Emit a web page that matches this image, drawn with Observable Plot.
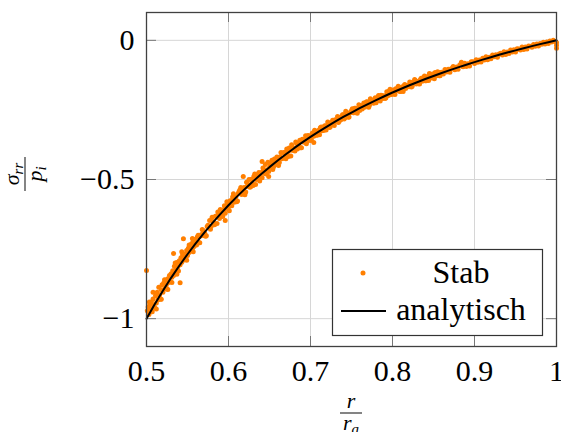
<!DOCTYPE html>
<html>
<head>
<meta charset="utf-8">
<script src="https://cdn.jsdelivr.net/npm/d3@7"></script>
<script src="https://cdn.jsdelivr.net/npm/@observablehq/plot@0.6"></script>
<style>
  body { margin: 0; background: white; }
  #chart { width: 561px; height: 432px; overflow: hidden; }
  #chart svg, #chart svg text { font-family: "Liberation Serif", "Times New Roman", Tinos, "DejaVu Serif", "Noto Serif", serif !important; }
</style>
</head>
<body>
<div id="chart"></div>
<script>
// ---- Data ----
const xTicks = [0.5, 0.6, 0.7, 0.8, 0.9, 1];
const yTicks = [-1, -0.5, 0];
const legendLabels = ["Stab", "analytisch"];

// analytical solution (black line)
const anaR = [0.50,0.51,0.52,0.53,0.54,0.55,0.56,0.57,0.58,0.59,0.60,0.61,0.62,0.63,0.64,0.65,0.66,0.67,0.68,0.69,0.70,0.71,0.72,0.73,0.74,0.75,0.76,0.77,0.78,0.79,0.80,0.81,0.82,0.83,0.84,0.85,0.86,0.87,0.88,0.89,0.90,0.91,0.92,0.93,0.94,0.95,0.96,0.97,0.98,0.99,1.00];
const anaS = [-1.0000,-0.9482,-0.8994,-0.8533,-0.8098,-0.7686,-0.7296,-0.6926,-0.6576,-0.6242,-0.5926,-0.5625,-0.5338,-0.5065,-0.4805,-0.4556,-0.4319,-0.4092,-0.3875,-0.3668,-0.3469,-0.3279,-0.3097,-0.2922,-0.2754,-0.2593,-0.2438,-0.2289,-0.2146,-0.2008,-0.1875,-0.1747,-0.1624,-0.1505,-0.1391,-0.1280,-0.1174,-0.1071,-0.0971,-0.0875,-0.0782,-0.0692,-0.0605,-0.0521,-0.0439,-0.0360,-0.0284,-0.0209,-0.0137,-0.0068,0.0000];

// "Stab" scatter points
const stabR = [
 0.500,0.501,0.502,0.503,0.5035,0.504,0.505,0.506,0.507,0.508,0.508,0.509,0.510,0.511,0.512,0.512,0.513,0.514,0.515,0.516,0.517,0.518,0.518,0.519,0.520,
 0.521,0.522,0.522,0.523,0.524,0.525,0.526,0.526,0.527,0.528,0.529,0.530,0.531,0.531,0.532,0.533,0.533,0.534,0.535,0.535,0.536,0.537,0.537,0.538,0.539,
 0.540,0.541,0.541,0.542,0.543,0.543,0.544,0.545,0.545,0.546,0.547,0.548,0.549,0.549,0.550,0.551,0.552,0.552,0.553,0.554,0.555,0.556,0.556,0.557,0.557,
 0.558,0.559,0.560,
 0.561,0.562,0.563,0.564,0.565,0.566,0.567,0.568,0.569,0.570,0.571,0.572,0.573,0.574,0.575,0.576,0.577,0.578,0.579,0.580,
 0.581,0.582,0.583,0.584,0.585,0.586,0.587,0.588,0.589,0.590,0.591,0.592,0.593,0.594,0.595,0.596,0.597,0.598,0.599,0.600,
 0.601,0.602,0.603,0.604,0.605,0.606,0.607,0.608,0.609,0.610,0.611,0.612,0.613,0.614,0.615,0.616,0.617,0.618,0.619,0.620,
 0.621,0.622,0.623,0.624,0.625,0.626,0.627,0.628,0.629,0.630,0.631,0.632,0.633,0.634,0.635,0.636,0.637,0.638,0.639,0.640,
 0.641,0.642,0.643,0.644,0.645,0.646,0.647,0.648,0.649,0.650,0.651,0.652,0.653,0.654,0.655,0.656,0.657,0.658,0.659,0.660,
 0.661,0.662,0.663,0.664,0.665,0.666,0.667,0.668,0.669,0.670,0.671,0.672,0.673,0.674,0.675,0.676,0.677,0.678,0.679,0.680,
 0.681,0.682,0.683,0.684,0.685,0.686,0.687,0.688,0.689,0.690,0.691,0.692,0.693,0.694,0.695,0.696,0.697,0.698,0.699,0.700,
 0.596,0.618,0.641,0.649,0.704,
 0.701,0.702,0.703,0.704,0.705,0.706,0.707,0.708,0.709,0.710,0.711,0.712,0.713,0.714,0.715,0.716,0.717,0.718,0.719,0.720,
 0.721,0.722,0.723,0.724,0.725,0.726,0.727,0.728,0.729,0.730,0.731,0.732,0.733,0.734,0.735,0.736,0.737,0.738,0.739,0.740,
 0.741,0.742,0.743,0.744,0.745,0.746,0.747,0.748,0.749,0.750,0.751,0.752,0.753,0.754,0.755,0.756,0.757,0.758,0.759,0.760,
 0.761,0.762,0.763,0.764,0.765,0.766,0.767,0.768,0.769,0.770,0.771,0.772,0.773,0.774,0.775,0.776,0.777,0.778,0.779,0.780,
 0.781,0.782,0.783,0.784,0.785,0.786,0.787,0.788,0.789,0.790,0.791,0.792,0.793,0.794,0.795,0.796,0.797,0.798,0.799,0.800,
 0.801,0.802,0.803,0.804,0.805,0.806,0.807,0.808,0.809,0.810,0.811,0.812,0.813,0.814,0.815,0.816,0.817,0.818,0.819,0.820,
 0.821,0.822,0.823,0.824,0.825,0.826,0.827,0.828,0.829,0.830,0.831,0.832,0.833,0.834,0.835,0.836,0.837,0.838,0.839,0.840,
 0.841,0.842,0.843,0.844,0.845,0.846,0.847,0.848,0.849,0.850,0.851,0.852,0.853,0.854,0.855,0.856,0.857,0.858,0.859,0.860,
 0.862,0.864,0.866,0.868,0.870,0.872,0.874,0.876,0.878,0.880,0.882,0.884,0.886,0.888,0.890,0.892,0.894,0.896,0.898,0.900,
 0.902,0.904,0.906,0.908,0.910,0.912,0.914,0.916,0.918,0.920,0.922,0.924,0.926,0.928,0.930,0.932,0.934,0.936,0.938,0.940,
 0.942,0.944,0.946,0.948,0.950,0.952,0.954,0.956,0.958,0.960,0.962,0.964,0.966,0.968,0.970,0.972,0.974,0.976,0.978,0.980,
 0.982,0.984,0.986,0.988,0.990,0.992,0.994,0.996,0.998,1.000,1.000,1.000
];
const stabS = [
 -0.827,-0.972,-0.958,-0.985,-0.940,-0.951,-0.966,-0.940,-0.975,-0.929,-0.905,-0.953,-0.961,-0.918,-0.944,-0.965,-0.905,-0.932,-0.887,-0.915,-0.930,-0.896,-0.930,-0.878,-0.905,
 -0.872,-0.893,-0.860,-0.862,-0.880,-0.893,-0.857,-0.895,-0.870,-0.845,-0.866,-0.839,-0.851,-0.870,-0.828,-0.845,-0.766,-0.812,-0.836,-0.800,-0.820,-0.798,-0.840,-0.815,-0.829,
 -0.792,-0.806,-0.871,-0.781,-0.797,-0.760,-0.770,-0.789,-0.713,-0.776,-0.768,-0.782,-0.755,-0.790,-0.773,-0.747,-0.762,-0.735,-0.740,-0.754,-0.731,-0.749,-0.712,-0.722,-0.760,
 -0.741,-0.716,-0.733,
 -0.735,-0.707,-0.700,-0.727,-0.727,-0.703,-0.698,-0.680,-0.683,-0.701,-0.693,-0.704,-0.702,-0.669,-0.664,-0.670,-0.647,-0.679,-0.668,-0.636,
 -0.651,-0.656,-0.663,-0.632,-0.632,-0.658,-0.617,-0.624,-0.640,-0.608,-0.620,-0.628,-0.633,-0.609,-0.594,-0.621,-0.604,-0.580,-0.586,-0.599,
 -0.612,-0.576,-0.577,-0.594,-0.563,-0.551,-0.582,-0.572,-0.562,-0.580,-0.577,-0.549,-0.542,-0.537,-0.529,-0.554,-0.547,-0.539,-0.529,-0.555,
 -0.545,-0.510,-0.524,-0.518,-0.500,-0.528,-0.526,-0.499,-0.512,-0.522,-0.488,-0.480,-0.518,-0.500,-0.489,-0.482,-0.475,-0.505,-0.491,-0.475,
 -0.494,-0.459,-0.464,-0.478,-0.446,-0.480,-0.465,-0.438,-0.471,-0.457,-0.447,-0.441,-0.431,-0.464,-0.454,-0.426,-0.438,-0.446,-0.419,-0.428,
 -0.450,-0.439,-0.418,-0.403,-0.425,-0.424,-0.404,-0.403,-0.421,-0.425,-0.390,-0.402,-0.417,-0.387,-0.395,-0.416,-0.375,-0.384,-0.396,-0.390,
 -0.398,-0.365,-0.371,-0.390,-0.378,-0.370,-0.359,-0.386,-0.386,-0.355,-0.357,-0.366,-0.359,-0.343,-0.372,-0.363,-0.342,-0.344,-0.354,-0.360,
 -0.647,-0.489,-0.435,-0.489,-0.367,
 -0.356,-0.335,-0.332,-0.345,-0.323,-0.333,-0.340,-0.341,-0.327,-0.323,-0.339,-0.314,-0.311,-0.325,-0.321,-0.324,-0.308,-0.307,-0.322,-0.312,
 -0.293,-0.297,-0.313,-0.311,-0.297,-0.295,-0.287,-0.301,-0.306,-0.285,-0.290,-0.287,-0.274,-0.295,-0.291,-0.276,-0.285,-0.282,-0.267,-0.267,
 -0.283,-0.278,-0.255,-0.264,-0.261,-0.276,-0.275,-0.260,-0.259,-0.252,-0.246,-0.260,-0.260,-0.244,-0.244,-0.257,-0.262,-0.246,-0.231,-0.252,
 -0.239,-0.235,-0.247,-0.234,-0.225,-0.240,-0.234,-0.222,-0.221,-0.232,-0.240,-0.232,-0.210,-0.215,-0.217,-0.222,-0.226,-0.213,-0.206,-0.224,
 -0.216,-0.205,-0.198,-0.212,-0.218,-0.197,-0.198,-0.209,-0.201,-0.199,-0.209,-0.206,-0.185,-0.190,-0.198,-0.182,-0.176,-0.194,-0.195,-0.185,
 -0.178,-0.192,-0.195,-0.174,-0.179,-0.181,-0.165,-0.172,-0.184,-0.184,-0.169,-0.168,-0.184,-0.163,-0.159,-0.173,-0.162,-0.163,-0.166,-0.167,
 -0.150,-0.154,-0.168,-0.165,-0.150,-0.152,-0.141,-0.144,-0.157,-0.155,-0.148,-0.156,-0.157,-0.141,-0.136,-0.146,-0.146,-0.133,-0.128,-0.145,
 -0.145,-0.133,-0.130,-0.144,-0.119,-0.125,-0.135,-0.129,-0.121,-0.133,-0.138,-0.116,-0.122,-0.127,-0.113,-0.116,-0.127,-0.127,-0.116,-0.115,
 -0.121,-0.105,-0.114,-0.104,-0.115,-0.101,-0.094,-0.106,-0.096,-0.104,-0.089,-0.079,-0.095,-0.082,-0.094,-0.084,-0.092,-0.077,-0.077,-0.083,
 -0.070,-0.079,-0.071,-0.078,-0.064,-0.071,-0.059,-0.070,-0.061,-0.066,-0.053,-0.059,-0.052,-0.061,-0.049,-0.046,-0.053,-0.041,-0.051,-0.042,
 -0.047,-0.035,-0.042,-0.034,-0.042,-0.030,-0.031,-0.035,-0.024,-0.033,-0.024,-0.031,-0.020,-0.021,-0.025,-0.015,-0.021,-0.013,-0.020,-0.011,
 -0.014,-0.007,-0.013,-0.006,-0.011,-0.002,-0.006,0.000,-0.004,-0.008,-0.018,-0.028
];

// ---- Build tables ----
const analytic = anaR.map((r, i) => ({r, s: anaS[i]}));
const stab = stabR.map((r, i) => ({r, s: stabS[i]}));

const ORANGE = "#ff7f00";
const FONT = "Liberation Serif, Times New Roman, Tinos, DejaVu Serif, Noto Serif, serif";
const fmt = d => (d < 0 ? "\u2212" + (-d) : String(d));

const W = 561, H = 432, ML = 146, MR = 5, MT = 12, MB = 86;
const plotH = H - MT - MB, plotW = W - ML - MR, TL = 10;

const chart = Plot.plot({
  width: W, height: H,
  marginLeft: ML, marginRight: MR, marginTop: MT, marginBottom: MB,
  style: {fontSize: "30px", background: "white", color: "black", overflow: "visible"},
  x: {domain: [0.5, 1], label: null},
  y: {domain: [-1.1, 0.1], label: null},
  marks: [
    Plot.gridX(xTicks, {stroke: "#d6d6d6", strokeOpacity: 1, strokeWidth: 1}),
    Plot.gridY(yTicks, {stroke: "#d6d6d6", strokeOpacity: 1, strokeWidth: 1}),
    // inward ticks on all four sides
    Plot.tickX(xTicks, {x: d => d, insetTop: plotH - TL, stroke: "#777", strokeWidth: 1}),
    Plot.tickX(xTicks, {x: d => d, insetBottom: plotH - TL, stroke: "#777", strokeWidth: 1}),
    Plot.tickY(yTicks, {y: d => d, insetRight: plotW - TL, stroke: "#777", strokeWidth: 1}),
    Plot.tickY(yTicks, {y: d => d, insetLeft: plotW - TL, stroke: "#777", strokeWidth: 1}),
    Plot.axisX(xTicks, {tickSize: 0, tickPadding: 13, tickFormat: fmt, fontSize: 30, label: null}),
    Plot.axisY(yTicks, {tickSize: 0, tickPadding: 12, tickFormat: fmt, fontSize: 30, label: null}),
    Plot.dot(stab, {x: "r", y: "s", r: 2.5, fill: ORANGE, stroke: null}),
    Plot.line(analytic, {x: "r", y: "s", stroke: "black", strokeWidth: 2}),
    Plot.frame({stroke: "#404040", strokeWidth: 1.3})
  ]
});
document.getElementById("chart").appendChild(chart);

// ---- Legend and axis labels (fractions) ----
const svg = d3.select(chart);
const lg = svg.append("g");
lg.append("rect").attr("x", 332.5).attr("y", 249.5).attr("width", 210).attr("height", 86)
  .attr("fill", "white").attr("stroke", "#333").attr("stroke-width", 1.2);
lg.append("circle").attr("cx", 363).attr("cy", 273).attr("r", 2.5).attr("fill", ORANGE);
lg.append("line").attr("x1", 341).attr("x2", 386).attr("y1", 311).attr("y2", 311)
  .attr("stroke", "black").attr("stroke-width", 2);
lg.append("text").attr("x", 461).attr("y", 283).attr("text-anchor", "middle")
  .attr("font-size", 32).text(legendLabels[0]);
lg.append("text").attr("x", 461).attr("y", 320).attr("text-anchor", "middle")
  .attr("font-size", 32).text(legendLabels[1]);

// y label: σ_rr / p_i (rotated)
const yl = svg.append("g").attr("transform", "translate(25,174) rotate(-90)")
  .attr("font-style", "italic");
const yn = yl.append("text").attr("x", 0).attr("y", -6).attr("text-anchor", "middle").attr("font-size", 22);
yn.append("tspan").text("σ");
yn.append("tspan").attr("font-size", 15).attr("dy", 4).text("rr");
yl.append("line").attr("x1", -17).attr("x2", 17).attr("y1", 0).attr("y2", 0)
  .attr("stroke", "#333").attr("stroke-width", 1.2);
const yd = yl.append("text").attr("x", 0).attr("y", 17).attr("text-anchor", "middle").attr("font-size", 22);
yd.append("tspan").text("p");
yd.append("tspan").attr("font-size", 15).attr("dy", 4).text("i");

// x label: r / r_a
const xl = svg.append("g").attr("font-style", "italic");
xl.append("text").attr("x", 351).attr("y", 408).attr("text-anchor", "middle").attr("font-size", 22).text("r");
xl.append("line").attr("x1", 340).attr("x2", 362).attr("y1", 413).attr("y2", 413)
  .attr("stroke", "#333").attr("stroke-width", 1.2);
const xd = xl.append("text").attr("x", 351).attr("y", 430).attr("text-anchor", "middle").attr("font-size", 22);
xd.append("tspan").text("r");
xd.append("tspan").attr("font-size", 15).attr("dy", 4).text("a");
</script>
</body>
</html>
